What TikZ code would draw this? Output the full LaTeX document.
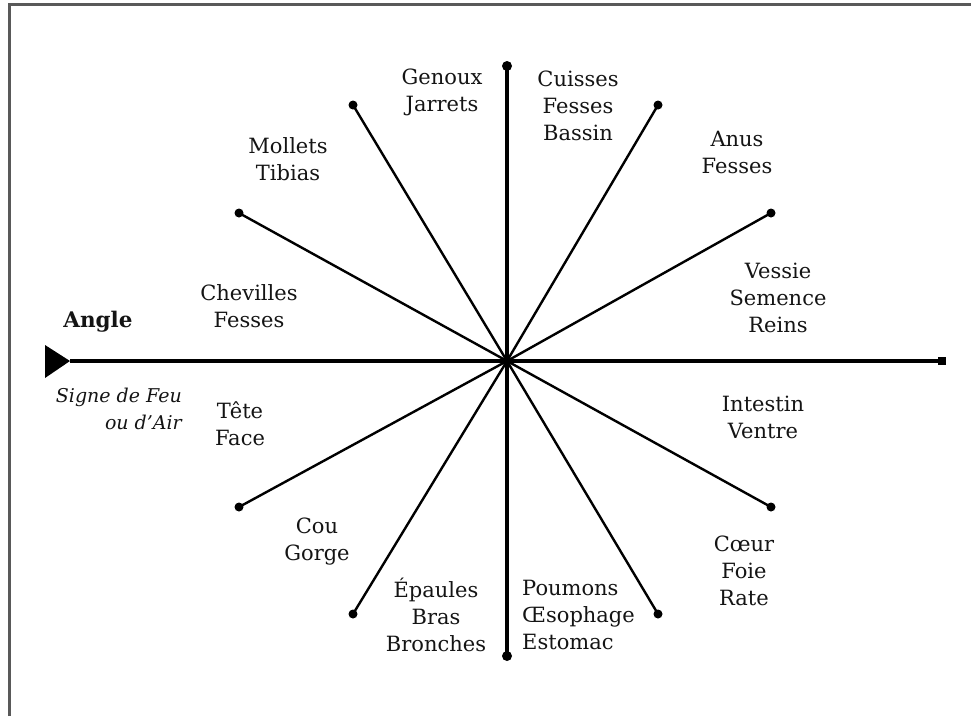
\documentclass[tikz,border=0pt]{standalone}
\usepackage{fontspec}
\setmainfont{DejaVu Serif}
\begin{document}
\begin{tikzpicture}[x=1pt,y=-1pt,
  lbl/.style={align=center,inner sep=0pt,text=black!92,font=\fontsize{21}{27}\selectfont},
  spoke/.style={line width=2.4pt,black},
  axis/.style={line width=3.2pt,black},
  enddot/.style={circle,fill=black,inner sep=0pt,minimum size=9pt}]
\useasboundingbox (0,0) rectangle (971,716);
% frame (top and left only)
\draw[line width=2.2pt,black!65] (9.5,716) -- (9.5,4.5) -- (971,4.5);
% centre and end points
\node[circle,fill=black,inner sep=0pt,minimum size=9pt] (c) at (507,361) {};
\coordinate (tip) at (70,361);
\node[rectangle,fill=black,inner sep=0pt,minimum size=8.5pt] (r) at (942,361) {};
\node[enddot,minimum size=10pt] (t) at (507,66) {};
\node[enddot,minimum size=10pt] (b) at (507,656) {};
\node[enddot] (e60) at (658,105) {};
\node[enddot] (e30) at (771,213) {};
\node[enddot] (e120) at (353,105) {};
\node[enddot] (e150) at (239,213) {};
\node[enddot] (e210) at (239,507) {};
\node[enddot] (e240) at (353,614) {};
\node[enddot] (e300) at (658,614) {};
\node[enddot] (e330) at (771,507) {};
% axes
\draw[axis] (tip) -- (r.center);
\draw[axis] (t.center) -- (b.center);
\fill[black] (tip) -- (45,345) -- (45,378) -- cycle;
% spokes
\foreach \e in {e60,e30,e120,e150,e210,e240,e300,e330}
  \draw[spoke] (c.center) -- (\e.center);
% labels
\node[lbl] (genoux) at (442,92) {Genoux\\Jarrets};
\node[lbl] (cuisses) at (578,106) {Cuisses\\Fesses\\Bassin};
\node[lbl] (anus) at (737,152) {Anus\\Fesses};
\node[lbl] (vessie) at (778,298) {Vessie\\Semence\\Reins};
\node[lbl] (mollets) at (288,159) {Mollets\\Tibias};
\node[lbl] (chev) at (249,306) {Chevilles\\Fesses};
\node[lbl] (tete) at (240,424) {Tête\\Face};
\node[lbl] (cou) at (317,542) {Cou\\Gorge};
\node[lbl] (epaules) at (436,615) {Épaules\\Bras\\Bronches};
\node[lbl,align=left,anchor=west] (poumons) at (522,615) {Poumons\\Œsophage\\Estomac};
\node[lbl] (intestin) at (763,417) {Intestin\\Ventre};
\node[lbl] (coeur) at (744,571) {Cœur\\Foie\\Rate};
\node[lbl,font=\fontsize{21.5}{27}\selectfont\bfseries] (angle) at (98,322) {Angle};
\node[lbl,align=right,anchor=east,font=\fontsize{19}{27}\selectfont\itshape] (signe) at (182,409) {Signe de Feu\\ou d’Air};
\end{tikzpicture}
\end{document}
